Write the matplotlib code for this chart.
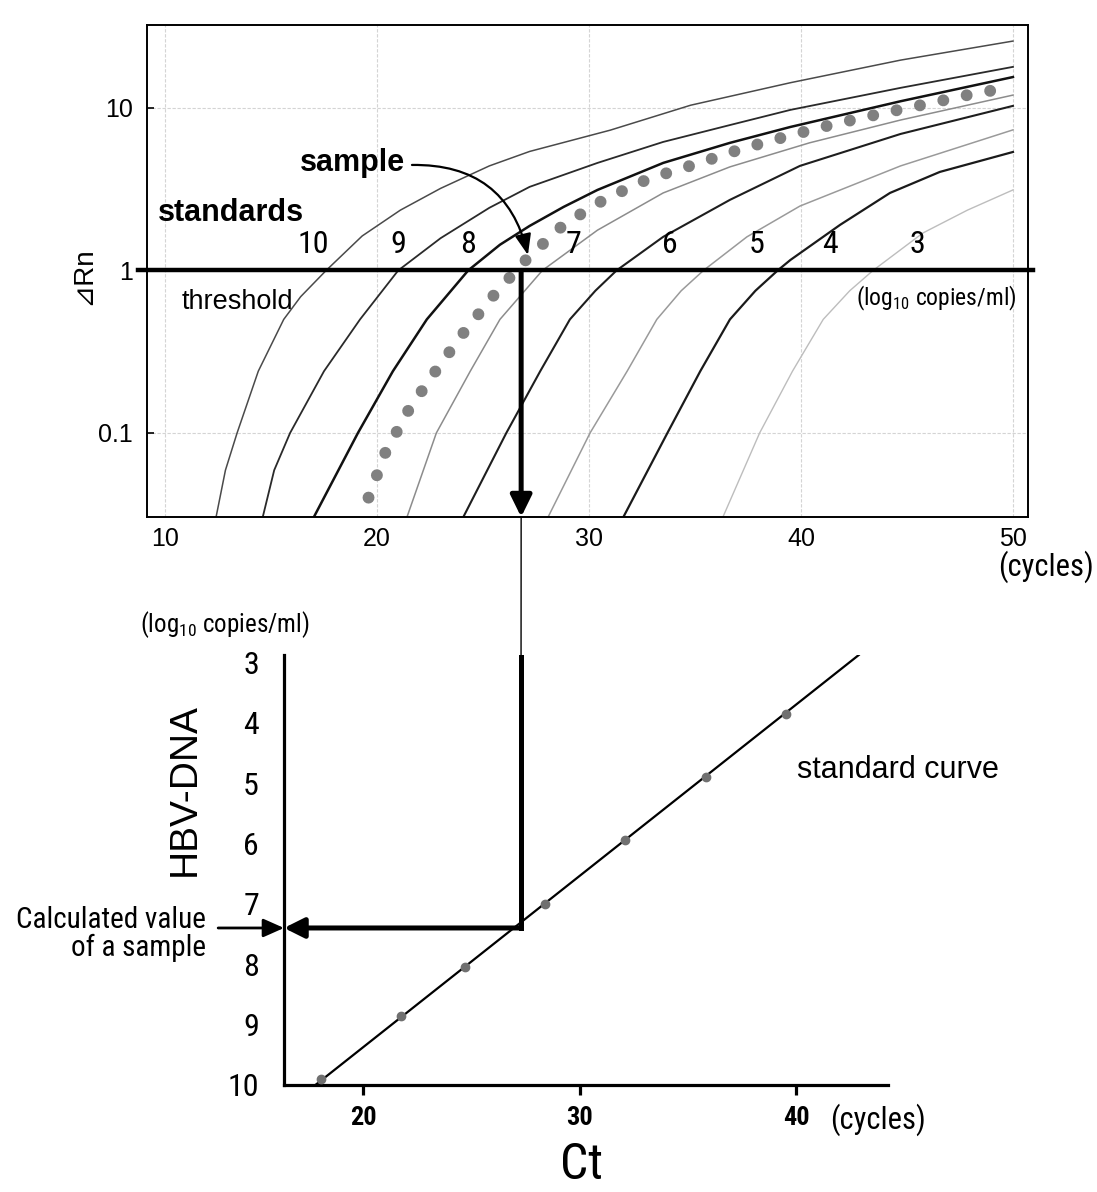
import matplotlib
matplotlib.use("Agg")
import matplotlib.pyplot as plt
from matplotlib import font_manager
from matplotlib.font_manager import FontProperties
from matplotlib.patches import ConnectionPatch

plt.rcParams["font.family"] = ["Liberation Sans", "DejaVu Sans"]


def find_condensed(bold=False):
    """Look for an installed narrow/condensed sans face."""
    prefs = ["Liberation Sans Narrow", "Roboto Condensed", "DejaVu Sans Condensed",
             "Open Sans Condensed", "Noto Sans Condensed", "Arial Narrow"]
    entries = font_manager.fontManager.ttflist

    def ok(f):
        fn = f.fname.lower()
        if "italic" in fn or "oblique" in fn or "mono" in fn or "serif" in fn:
            return False
        return ("bold" in fn) == bold

    for p in prefs:
        for f in entries:
            if f.name == p and ok(f):
                return f.fname
    for f in entries:
        if f.stretch in ("condensed", "semi-condensed") and ok(f):
            return f.fname
    return None


_NARROW_FILE = find_condensed()
_NARROW_BOLD_FILE = find_condensed(bold=True)


def narrow(size, bold=False):
    fname = _NARROW_BOLD_FILE if bold else _NARROW_FILE
    if fname:
        return FontProperties(fname=fname, size=size)
    # no condensed face installed: regular face, a little smaller
    return FontProperties(family="Liberation Sans", size=size * 0.86,
                          weight="bold" if bold else "normal")


# ---- amplification plot data (cycle, delta Rn) ----
std_labels = ["10", "9", "8", "7", "6", "5", "4", "3"]

cyc_10 = [12.4, 12.85, 13.4, 14.4, 15.6, 16.4, 17.6, 19.3, 21.1, 23.0, 25.3, 27.2, 31.0, 34.8, 39.5, 44.7, 50.0]
rn_10 = [0.030, 0.059, 0.10, 0.24, 0.50, 0.69, 1.0, 1.63, 2.35, 3.2, 4.4, 5.4, 7.3, 10.4, 14.3, 19.7, 25.8]

cyc_9 = [14.6, 15.15, 15.9, 17.5, 19.2, 21.0, 23.0, 25.3, 27.2, 30.4, 33.5, 36.65, 39.5, 44.7, 50.0]
rn_9 = [0.030, 0.059, 0.10, 0.24, 0.50, 1.0, 1.58, 2.43, 3.27, 4.59, 6.18, 7.85, 9.73, 13.3, 17.9]

cyc_8 = [17.0, 19.1, 20.75, 22.35, 24.3, 25.8, 27.2, 28.8, 30.4, 33.5, 36.65, 39.5, 44.7, 50.0]
rn_8 = [0.030, 0.10, 0.24, 0.50, 1.0, 1.44, 1.88, 2.46, 3.13, 4.59, 6.10, 7.64, 11.0, 15.5]

cyc_7 = [21.4, 22.8, 24.4, 25.8, 27.8, 30.4, 33.5, 36.65, 40.4, 44.7, 50.0]
rn_7 = [0.030, 0.10, 0.24, 0.50, 1.0, 1.77, 3.0, 4.34, 6.10, 8.43, 12.0]

cyc_6 = [24.05, 26.1, 27.7, 29.1, 30.3, 31.3, 33.5, 36.65, 39.95, 44.7, 50.0]
rn_6 = [0.030, 0.10, 0.24, 0.50, 0.75, 1.0, 1.61, 2.72, 4.40, 6.92, 10.3]

cyc_5 = [28.05, 30.05, 31.8, 33.2, 34.35, 35.4, 37.45, 39.95, 44.7, 50.0]
rn_5 = [0.030, 0.10, 0.24, 0.50, 0.75, 1.0, 1.61, 2.49, 4.40, 7.33]

cyc_4 = [31.6, 33.7, 35.25, 36.65, 37.85, 38.9, 39.5, 41.85, 44.2, 46.55, 50.0]
rn_4 = [0.030, 0.10, 0.24, 0.50, 0.75, 1.0, 1.16, 1.91, 3.0, 4.04, 5.36]

cyc_3 = [36.3, 38.05, 39.6, 41.05, 42.3, 43.4, 45.75, 47.85, 50.0]
rn_3 = [0.030, 0.10, 0.24, 0.50, 0.75, 1.0, 1.70, 2.35, 3.13]

cyc_sample = [19.6, 20.4, 21.5, 22.8, 24.15, 25.6, 27.1, 28.8, 30.75, 32.8, 35.05, 37.2,
              39.4, 41.6, 43.9, 46.1, 48.35, 49.5]
rn_sample = [0.040, 0.076, 0.139, 0.244, 0.425, 0.728, 1.19, 1.91, 2.75, 3.66, 4.52, 5.60,
             6.73, 7.98, 9.31, 10.7, 12.4, 13.1]

threshold = 1.0
sample_ct_amp = 26.8

# ---- standard curve data (Ct, log10 copies/ml) ----
std_ct = [18.05, 21.75, 24.7, 28.4, 32.1, 35.85, 39.55]
std_log = [9.9, 8.85, 8.05, 7.0, 5.95, 4.9, 3.85]
fit_ct = [17.8, 42.9]
fit_log = [10.0, 2.88]
sample_ct = 27.3
sample_log = 7.4

curves = [(cyc_10, rn_10), (cyc_9, rn_9), (cyc_8, rn_8), (cyc_7, rn_7),
          (cyc_6, rn_6), (cyc_5, rn_5), (cyc_4, rn_4), (cyc_3, rn_3)]
curve_colors = ["#4a4a4a", "#2a2a2a", "#111111", "#8c8c8c", "#1e1e1e", "#9a9a9a", "#1a1a1a", "#bdbdbd"]
curve_widths = [1.1, 1.3, 1.8, 1.1, 1.5, 1.1, 1.6, 1.0]
label_x = [16.98, 20.99, 24.29, 29.25, 33.82, 37.92, 41.37, 45.47]

W, H = 1097, 1192
fig = plt.figure(figsize=(W / 100, H / 100), dpi=100)

# ================= top: amplification plot =================
ax1 = fig.add_axes([147 / W, 1 - 517 / H, 881 / W, 492 / H])
ax1.set_yscale("log")
ax1.set_xlim(9.15, 50.71)
ax1.set_ylim(0.0304, 32.4)
ax1.grid(True, which="major", color="#d4d4d4", lw=0.8, ls=(0, (3, 1.5)))
ax1.set_axisbelow(True)

for (cx, ry), col, lw in zip(curves, curve_colors, curve_widths):
    ax1.plot(cx, ry, color=col, lw=lw, zorder=2)

ax1.plot(cyc_sample, rn_sample, color="#808080", lw=8.6, ls=(0, (0.001, 2.0)),
         dash_capstyle="round", zorder=3)

ax1.axhline(threshold, xmin=-0.01, xmax=1.006, color="k", lw=3.2, clip_on=False, zorder=4)

ax1.annotate("", xy=(sample_ct_amp, ax1.get_ylim()[0]), xytext=(sample_ct_amp, threshold),
             arrowprops=dict(arrowstyle="-|>,head_length=0.65,head_width=0.32", lw=3.6,
                             color="k", mutation_scale=20, shrinkA=0, shrinkB=0), zorder=5)

ax1.set_xticks([10, 20, 30, 40, 50])
ax1.set_yticks([0.1, 1, 10])
ax1.set_yticklabels(["0.1", "1", "10"])
ax1.minorticks_off()
ax1.tick_params(axis="x", length=0, labelsize=18, pad=7)
ax1.tick_params(axis="y", direction="in", length=5, width=1.2, labelsize=18, pad=10)
for s in ax1.spines.values():
    s.set_linewidth(1.4)

ax1.text(-0.0726, 0.49, "\u22bfRn", transform=ax1.transAxes, rotation=90, ha="center",
         va="center", fontsize=20, family=["Liberation Sans", "DejaVu Sans", "Noto Sans CJK JP"])
ax1.text(9.67, 2.26, "standards", fontsize=22, fontweight="bold", ha="left", va="center")
ax1.text(21.32, 4.59, "sample", fontsize=22, fontweight="bold", ha="right", va="center")
ax1.annotate("", xy=(27.12, 1.245), xytext=(21.65, 4.46),
             arrowprops=dict(arrowstyle="-|>,head_length=0.9,head_width=0.35",
                             connectionstyle="arc3,rad=-0.4", lw=1.6, color="k",
                             mutation_scale=14, shrinkA=0, shrinkB=0))
for lab, lx in zip(std_labels, label_x):
    ax1.text(lx, 1.435, lab, fontproperties=narrow(23), ha="center", va="center")
ax1.text(10.8, 0.64, "threshold", fontsize=19.5, ha="left", va="center")
ax1.text(50.19, 0.677, r"(log$_{\mathregular{10}}$ copies/ml)", fontproperties=narrow(17),
         ha="right", va="center")
ax1.text(1.075, -0.102, "(cycles)", transform=ax1.transAxes, fontproperties=narrow(22),
         ha="right", va="center")

# ================= bottom: standard curve =================
ax2 = fig.add_axes([284 / W, 1 - 1085 / H, 604 / W, 430 / H])
ax2.set_xlim(16.35, 44.25)
ax2.set_ylim(10.0, 2.88)
for side in ("top", "right"):
    ax2.spines[side].set_visible(False)
for side in ("left", "bottom"):
    ax2.spines[side].set_linewidth(2.3)

ax2.plot(fit_ct, fit_log, color="k", lw=1.6, zorder=2)
ax2.plot(std_ct, std_log, "o", color="#707070", ms=6, zorder=3)

ax2.plot([sample_ct, sample_ct], [ax2.get_ylim()[1], sample_log], color="k", lw=3.6,
         solid_capstyle="projecting", zorder=4)
ax2.annotate("", xy=(ax2.get_xlim()[0], sample_log), xytext=(sample_ct, sample_log),
             arrowprops=dict(arrowstyle="-|>,head_length=0.6,head_width=0.3", lw=3.6,
                             color="k", mutation_scale=20, shrinkA=0, shrinkB=0), zorder=5)
ax2.annotate("", xy=(ax2.get_xlim()[0], sample_log), xytext=(-0.109, sample_log),
             xycoords="data", textcoords=("axes fraction", "data"),
             arrowprops=dict(arrowstyle="-|>,head_length=0.9,head_width=0.4", lw=2.0,
                             color="k", mutation_scale=14, shrinkA=0, shrinkB=0),
             annotation_clip=False)

ax2.set_xticks([20, 30, 40])
ax2.set_xticklabels(["20", "30", "40"], fontproperties=narrow(19, bold=True))
ax2.set_yticks(range(3, 11))
ax2.set_yticklabels([str(v) for v in range(3, 11)], fontproperties=narrow(23))
ax2.tick_params(axis="x", direction="out", length=7, width=2.3, pad=8)
ax2.tick_params(axis="y", length=0, pad=18)

ax2.text(-0.098, 1.07, r"(log$_{\mathregular{10}}$ copies/ml)", transform=ax2.transAxes,
         fontproperties=narrow(18), ha="center", va="center")
ax2.text(-0.164, 0.686, "HBV-DNA", transform=ax2.transAxes, rotation=90, fontsize=28,
         ha="center", va="center")
ax2.text(40.05, 4.79, "standard curve", fontsize=22, ha="left", va="center")
ax2.text(41.57, -0.081, "(cycles)", transform=ax2.get_xaxis_transform(),
         fontproperties=narrow(22), ha="left", va="center")
ax2.text(0.493, -0.186, "Ct", transform=ax2.transAxes, fontproperties=narrow(36),
         ha="center", va="center")
ax2.text(-0.129, 7.5, "Calculated value\nof a sample", transform=ax2.get_yaxis_transform(),
         fontproperties=narrow(21), ha="right", va="center", multialignment="right",
         linespacing=1.0)

# thin line joining the two panels
con = ConnectionPatch(xyA=(sample_ct_amp, ax1.get_ylim()[0]), coordsA=ax1.transData,
                      xyB=(sample_ct, ax2.get_ylim()[1]), coordsB=ax2.transData,
                      color="k", lw=1.0)
fig.add_artist(con)

fig.savefig("out.png", dpi=100, facecolor="white")
